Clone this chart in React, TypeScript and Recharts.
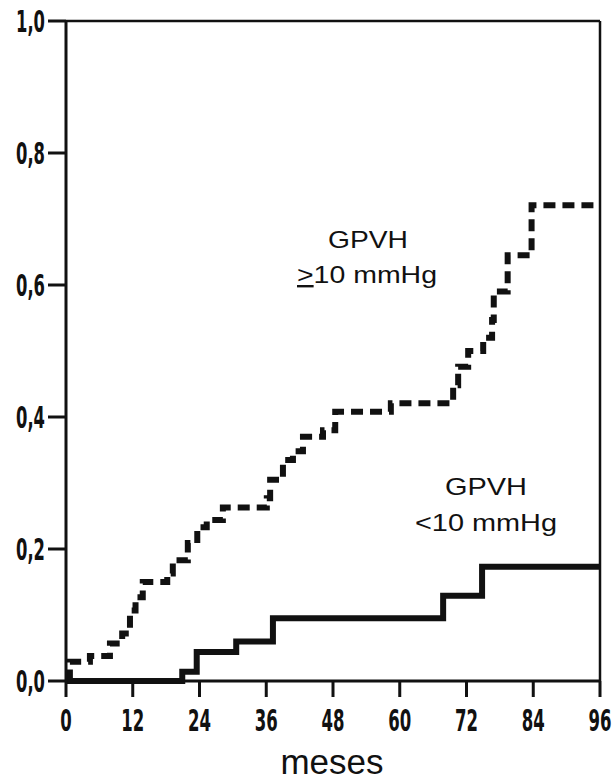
import React from "react";
import { LineChart, Line, XAxis, YAxis, ReferenceLine } from "recharts";

const xTicks = [0, 12, 24, 36, 48, 60, 72, 84, 96];
const yTicks = [0, 0.2, 0.4, 0.6, 0.8, 1.0];

// GPVH >= 10 mmHg (dashed curve)
const highMonths = [0, 0.7, 4.3, 7.9, 10.1, 11.5, 12.5, 13.8, 18.2, 19.2, 21.9, 23.6, 25.3, 28.2, 36.1, 36.7, 39.0, 40.8, 42.6, 46.2, 48.4, 58.4, 69.6, 70.5, 72.3, 75.0, 76.6, 76.9, 79.4, 83.7, 96];
const highValues = [0.005, 0.029, 0.038, 0.057, 0.072, 0.107, 0.127, 0.15, 0.163, 0.183, 0.209, 0.233, 0.244, 0.263, 0.277, 0.305, 0.335, 0.348, 0.37, 0.38, 0.408, 0.421, 0.448, 0.476, 0.5, 0.52, 0.547, 0.59, 0.645, 0.721, 0.721];

// GPVH < 10 mmHg (solid curve)
const lowMonths = [0, 20.9, 23.5, 30.6, 37.2, 67.8, 74.8, 96];
const lowValues = [0, 0.014, 0.044, 0.06, 0.095, 0.129, 0.173, 0.173];

const highData = highMonths.map((m, i) => ({ m, p: highValues[i] }));
const lowData = lowMonths.map((m, i) => ({ m, p: lowValues[i] }));

const fmtY = (v: number) => v.toFixed(1).replace(".", ",");

// condensed bold labels, squeezed to the width of the original narrow font
function NarrowTick(props: any) {
    const { x, y, payload, textAnchor, vertical } = props;
    const label = vertical ? fmtY(payload.value) : String(payload.value);
    const w = label.split("").reduce((s: number, c: string) => s + (c === "," ? 6 : 11.5), 0);
    return <text x={x} y={y} dy={vertical ? "0.36em" : "0.71em"} textAnchor={textAnchor}
        fontFamily="'DejaVu Sans', sans-serif" fontWeight={700} fontSize={30} fill="#111"
        textLength={w} lengthAdjust="spacingAndGlyphs">{label}</text>
}

export default function App() {
    return <div style={{ position: "absolute", left: 0, top: 0, width: 616, height: 783, background: "#fff" }}>
        <LineChart
            width={616}
            height={783}
            margin={{ top: 21, right: 16, left: 0, bottom: 0 }}
        >
            <XAxis
                type="number"
                dataKey="m"
                domain={[0, 96]}
                ticks={xTicks}
                height={102}
                tickSize={16}
                tickMargin={13}
                axisLine={{ stroke: "#111", strokeWidth: 3 }}
                tickLine={{ stroke: "#111", strokeWidth: 3 }}
                tick={<NarrowTick />}
                allowDataOverflow
            />
            <YAxis
                type="number"
                domain={[0, 1]}
                ticks={yTicks}
                width={66}
                tickSize={18}
                tickMargin={3}
                axisLine={{ stroke: "#111", strokeWidth: 3 }}
                tickLine={{ stroke: "#111", strokeWidth: 3 }}
                tick={<NarrowTick vertical />}
            />
            <ReferenceLine y={1} stroke="#111" strokeWidth={2.5} />
            <ReferenceLine x={96} stroke="#111" strokeWidth={2.5} />
            <Line data={highData} dataKey="p" type="stepAfter" stroke="#111" strokeWidth={6}
                strokeDasharray="12 7" dot={false} isAnimationActive={false} />
            <Line data={lowData} dataKey="p" type="stepAfter" stroke="#111" strokeWidth={6}
                dot={false} isAnimationActive={false} />
        </LineChart>
        <svg width={616} height={783} style={{ position: "absolute", left: 0, top: 0, pointerEvents: "none" }}
            fontFamily="'Liberation Sans', Arial, sans-serif" fill="#111">
            <text x={368} y={248} fontSize={24} textAnchor="middle" textLength={80} lengthAdjust="spacingAndGlyphs">GPVH</text>
            <text x={367} y={283} fontSize={24} textAnchor="middle" textLength={140} lengthAdjust="spacingAndGlyphs">
                <tspan textDecoration="underline">&gt;</tspan>10 mmHg
            </text>
            <text x={486} y={495} fontSize={24} textAnchor="middle" textLength={82} lengthAdjust="spacingAndGlyphs">GPVH</text>
            <text x={486} y={531} fontSize={24} textAnchor="middle" textLength={142} lengthAdjust="spacingAndGlyphs">&lt;10 mmHg</text>
            <text x={332} y={774} fontSize={35} textAnchor="middle">meses</text>
        </svg>
    </div>
}
